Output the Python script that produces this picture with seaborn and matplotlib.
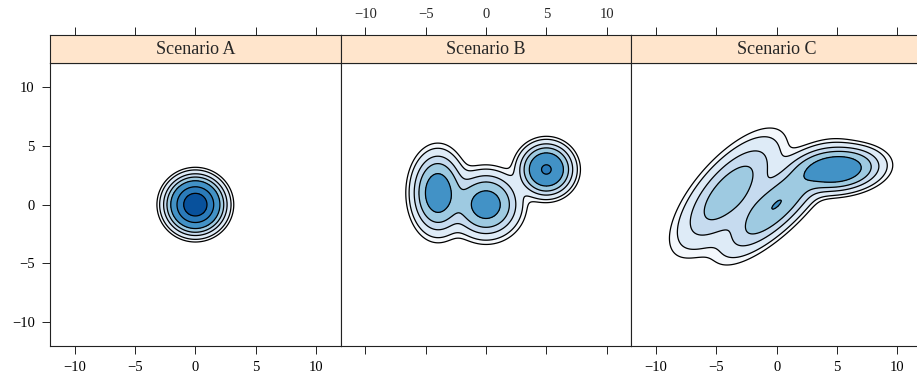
import numpy as np
import matplotlib
matplotlib.use("Agg")
import matplotlib.pyplot as plt
import seaborn as sns

# panel names
scenarios = ["Scenario A", "Scenario B", "Scenario C"]

# mixture components per scenario (means, sds, correlation, weight)
a_mu_x = [0.0]
a_mu_y = [0.0]
a_sd_x = [1.0]
a_sd_y = [1.0]
a_rho = [0.0]
a_w = [1.0]

b_mu_x = [-4.0, 0.0, 5.0]
b_mu_y = [1.0, 0.0, 3.0]
b_sd_x = [1.0, 1.3, 1.0]
b_sd_y = [1.6, 1.3, 1.0]
b_rho = [0.0, 0.0, 0.0]
b_w = [0.34, 0.32, 0.34]

c_mu_x = [-4.0, 0.0, 5.0]
c_mu_y = [1.0, 0.0, 3.0]
c_sd_x = [2.08, 2.09, 1.7]
c_sd_y = [2.35, 2.09, 0.9]
c_rho = [0.70, 0.79, 0.15]
c_w = [0.35, 0.34, 0.38]

# contour levels
levels = [0.001, 0.002, 0.005, 0.01, 0.02, 0.05, 0.1, 0.2]

x_ticks = [-10, -5, 0, 5, 10]
y_ticks = [-10, -5, 0, 5, 10]

components = [
    (a_mu_x, a_mu_y, a_sd_x, a_sd_y, a_rho, a_w),
    (b_mu_x, b_mu_y, b_sd_x, b_sd_y, b_rho, b_w),
    (c_mu_x, c_mu_y, c_sd_x, c_sd_y, c_rho, c_w),
]

sns.set_theme(style="white")
plt.rcParams['font.family'] = ['Liberation Serif', 'DejaVu Serif']
plt.rcParams['axes.unicode_minus'] = True

fill_colors = ["#f4f8fc", "#deebf7", "#c6dbef", "#9ecae1",
               "#4292c6", "#2b7bba", "#08519c"]

lim = 12.05
grid = np.linspace(-lim, lim, 500)
gx, gy = np.meshgrid(grid, grid)


def mixture_density(mx, my, sx, sy, rho, w):
    z = np.zeros_like(gx)
    for i in range(len(mx)):
        dx = (gx - mx[i]) / sx[i]
        dy = (gy - my[i]) / sy[i]
        q = (dx ** 2 - 2 * rho[i] * dx * dy + dy ** 2) / (1 - rho[i] ** 2)
        norm = 2 * np.pi * sx[i] * sy[i] * np.sqrt(1 - rho[i] ** 2)
        z += w[i] * np.exp(-q / 2) / norm
    return z


W, H = 917, 378
fig = plt.figure(figsize=(W / 100, H / 100), dpi=100)

left_px = 50.0
panel_w = 290.7
top_px = 63.3
bottom_px = 346.0
strip_top = 35.0

edge = "#222222"

for k, name in enumerate(scenarios):
    x0 = (left_px + k * panel_w) / W
    ax = fig.add_axes([x0, 1 - bottom_px / H, panel_w / W,
                       (bottom_px - top_px) / H])
    z = mixture_density(*components[k])
    ax.contourf(gx, gy, z, levels=levels, colors=fill_colors)
    ax.contour(gx, gy, z, levels=levels, colors="black", linewidths=0.9)
    ax.set_xlim(-lim, lim)
    ax.set_ylim(-lim, lim)
    ax.set_xticks(x_ticks)
    ax.set_yticks(y_ticks)
    ax.tick_params(direction="out", length=6, width=0.7, color=edge,
                   labelsize=10.5, pad=5, labelcolor="black")
    ax.tick_params(axis="x", bottom=True, labelbottom=(k != 1), top=False)
    ax.tick_params(axis="y", left=(k == 0), labelleft=(k == 0),
                   right=(k == 2), labelright=False)
    for s in ax.spines.values():
        s.set_color(edge)
        s.set_linewidth(0.8)

    sx = fig.add_axes([x0, 1 - top_px / H, panel_w / W,
                       (top_px - strip_top) / H])
    sx.set_facecolor("#ffe5cc")
    sx.set_xlim(-lim, lim)
    sx.set_yticks([])
    sx.set_xticks(x_ticks)
    sx.xaxis.tick_top()
    sx.tick_params(axis="x", direction="out", length=6, width=0.7,
                   color=edge, labelsize=10.5, pad=4,
                   labeltop=(k == 1), labelbottom=False, bottom=False)
    sx.text(0.5, 0.47, name, transform=sx.transAxes, ha="center",
            va="center", fontsize=13)
    for s in sx.spines.values():
        s.set_color(edge)
        s.set_linewidth(0.8)

fig.savefig("out.png", dpi=100)
